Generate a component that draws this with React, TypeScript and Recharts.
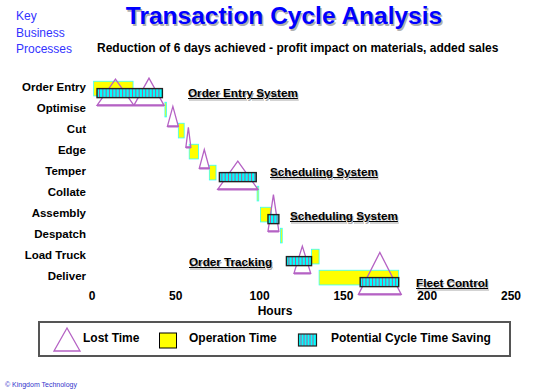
import React from 'react';
import { ComposedChart, XAxis, YAxis, ReferenceArea } from 'recharts';

const FONT = 'Arial, "Liberation Sans", sans-serif';

const processes = [
  'Order Entry',
  'Optimise',
  'Cut',
  'Edge',
  'Temper',
  'Collate',
  'Assembly',
  'Despatch',
  'Load Truck',
  'Deliver',
];
const hourTicks = [0, 50, 100, 150, 200, 250];
const rowTicks = processes.map((_, i) => i);

// operation time per process, hours
const opStart = [1, 43.5, 51.5, 58, 70, 98.5, 100.5, 112.5, 131, 135.5];
const opEnd = [24.5, 44.5, 55, 63.5, 74, 99.5, 107, 113.5, 135.5, 183];

// potential cycle time saving
const saveRow = [0, 4, 6, 8, 9];
const saveStart = [3, 76, 105, 116, 160];
const saveEnd = [42, 98, 111.5, 131, 183];

// lost time (triangle spans start..end, depth in rows)
const lostRow = [0, 0, 1, 2, 3, 4, 6, 8, 9];
const lostStart = [3, 25, 45, 56, 64, 75, 105, 120.5, 159];
const lostEnd = [25, 43, 51.5, 59, 70, 99, 111.5, 130.5, 184.5];
const lostDepth = [1.25, 1.3, 0.95, 0.95, 0.9, 1.35, 1.75, 1.3, 2.0];

const systems = [
  { text: 'Order Entry System', left: 188, top: 87 },
  { text: 'Scheduling System', left: 270, top: 166 },
  { text: 'Scheduling System', left: 290, top: 210 },
  { text: 'Order Tracking', left: 189, top: 256 },
  { text: 'Fleet Control', left: 416, top: 277 },
];

const PURPLE = '#b562c4';

const OpShape = (p: any) => (
  <rect
    x={p.x}
    y={p.y}
    width={Math.max(p.width, 1.5)}
    height={p.height}
    fill="#ffff00"
    stroke="#33ffff"
    strokeWidth={0.8}
  />
);

const SaveShape = (p: any) => {
  const lines = [];
  for (let lx = p.x + 2.5; lx < p.x + p.width - 1; lx += 3.3) {
    lines.push(
      <line key={lx} x1={lx} x2={lx} y1={p.y} y2={p.y + p.height} stroke="#c04a86" strokeWidth={0.9} />
    );
  }
  return (
    <g>
      <rect x={p.x} y={p.y} width={p.width} height={p.height} fill="#00ffff" />
      {lines}
      <rect x={p.x} y={p.y} width={p.width} height={p.height} fill="none" stroke="#222" strokeWidth={1.4} />
    </g>
  );
};

const LostShape = (p: any) => {
  const bottom = p.y + p.height;
  return (
    <g>
      <polygon
        points={`${p.x},${bottom} ${p.x + p.width / 2},${p.y} ${p.x + p.width},${bottom}`}
        fill="none"
        stroke={PURPLE}
        strokeWidth={1.3}
      />
      <line x1={p.x} x2={p.x + p.width} y1={bottom} y2={bottom} stroke={PURPLE} strokeWidth={2.2} />
    </g>
  );
};

const TransactionChart: React.FC = () => (
  <ComposedChart
    width={545}
    height={391}
    margin={{ top: 65.5, right: 34, bottom: 75, left: 2 }}
    style={{ position: 'absolute', left: 0, top: 0 }}
  >
    <XAxis
      type="number"
      dataKey="x"
      domain={[0, 250]}
      ticks={hourTicks}
      allowDataOverflow
      axisLine={false}
      tickLine={false}
      tickSize={0}
      tickMargin={5}
      height={30}
      tick={{ fill: '#000', fontSize: 12, fontWeight: 700, fontFamily: FONT }}
    />
    <YAxis
      type="number"
      dataKey="y"
      domain={[-1, 9.5]}
      ticks={rowTicks}
      reversed
      allowDataOverflow
      interval={0}
      width={90}
      axisLine={false}
      tickLine={false}
      tickSize={0}
      tickMargin={6}
      tickFormatter={(v: number) => processes[v] ?? ''}
      tick={{ fill: '#000', fontSize: 11.5, fontWeight: 700, fontFamily: FONT }}
    />
    {opStart.map((s, i) => (
      <ReferenceArea
        key={`op${i}`}
        x1={s}
        x2={opEnd[i]}
        y1={i - 0.25}
        y2={i + 0.45}
        ifOverflow="visible"
        shape={OpShape}
      />
    ))}
    {lostStart.map((s, i) => (
      <ReferenceArea
        key={`lost${i}`}
        x1={s}
        x2={lostEnd[i]}
        y1={lostRow[i] + 0.9 - lostDepth[i]}
        y2={lostRow[i] + 0.9}
        ifOverflow="visible"
        shape={LostShape}
      />
    ))}
    {saveStart.map((s, i) => (
      <ReferenceArea
        key={`save${i}`}
        x1={s}
        x2={saveEnd[i]}
        y1={saveRow[i] + 0.1}
        y2={saveRow[i] + 0.53}
        ifOverflow="visible"
        shape={SaveShape}
      />
    ))}
  </ComposedChart>
);

const textBold: React.CSSProperties = {
  position: 'absolute',
  fontFamily: FONT,
  fontWeight: 700,
  fontSize: 12,
  lineHeight: '14px',
  whiteSpace: 'nowrap',
  color: '#000',
};

export default function App() {
  return (
    <div
      style={{
        position: 'absolute',
        left: 0,
        top: 0,
        width: 545,
        height: 391,
        background: '#fff',
        overflow: 'hidden',
        fontFamily: FONT,
      }}
    >
      <TransactionChart />

      <div style={{ position: 'absolute', left: 16, top: 8, fontSize: 12, lineHeight: '16.5px', color: '#3333ff' }}>
        Key
        <br />
        Business
        <br />
        Processes
      </div>
      <div
        style={{
          position: 'absolute',
          left: 0,
          width: 568,
          top: 1,
          textAlign: 'center',
          fontSize: 24.5,
          fontWeight: 700,
          color: '#0000ff',
          lineHeight: '30px',
          textShadow: '1.5px 1.5px 0 #b0b0b0',
          whiteSpace: 'nowrap',
        }}
      >
        Transaction Cycle Analysis
      </div>
      <div style={{ ...textBold, left: 97, top: 41 }}>
        Reduction of 6 days achieved - profit impact on materials, added sales
      </div>

      {systems.map((s, i) => (
        <div
          key={i}
          style={{
            ...textBold,
            left: s.left,
            top: s.top,
            fontSize: 11.7,
            lineHeight: '11px',
            textDecoration: 'underline',
            textShadow: '1px 1.5px 0 #a8a8a8',
          }}
        >
          {s.text}
        </div>
      ))}

      <div style={{ ...textBold, left: 0, width: 550, top: 304, textAlign: 'center' }}>Hours</div>

      <div
        style={{
          position: 'absolute',
          left: 38,
          top: 321,
          width: 469,
          height: 32,
          border: '2px solid #555',
        }}
      >
        <svg width={469} height={32} style={{ position: 'absolute', left: 0, top: 0 }}>
          <polygon points="14,28 27,5 40,28" fill="none" stroke={PURPLE} strokeWidth={1.3} />
          <rect x={119.5} y={10} width={17} height={15} fill="#ffff00" stroke="#000" strokeWidth={1} />
          <rect x={258.5} y={11} width={18} height={12} fill="#00ffff" />
          {[261, 264, 267, 270, 273].map((lx) => (
            <line key={lx} x1={lx} x2={lx} y1={11} y2={23} stroke="#c04a86" strokeWidth={0.9} />
          ))}
          <rect x={258.5} y={11} width={18} height={12} fill="none" stroke="#222" strokeWidth={1.2} />
        </svg>
        <div style={{ ...textBold, left: 43, top: 8 }}>Lost Time</div>
        <div style={{ ...textBold, left: 149, top: 8 }}>Operation Time</div>
        <div style={{ ...textBold, left: 291, top: 8 }}>Potential Cycle Time Saving</div>
      </div>

      <div
        style={{
          position: 'absolute',
          left: 5,
          top: 380,
          fontSize: 7,
          lineHeight: '9px',
          color: '#3333cc',
          whiteSpace: 'nowrap',
        }}
      >
        © Kingdom Technology
      </div>
    </div>
  );
}
